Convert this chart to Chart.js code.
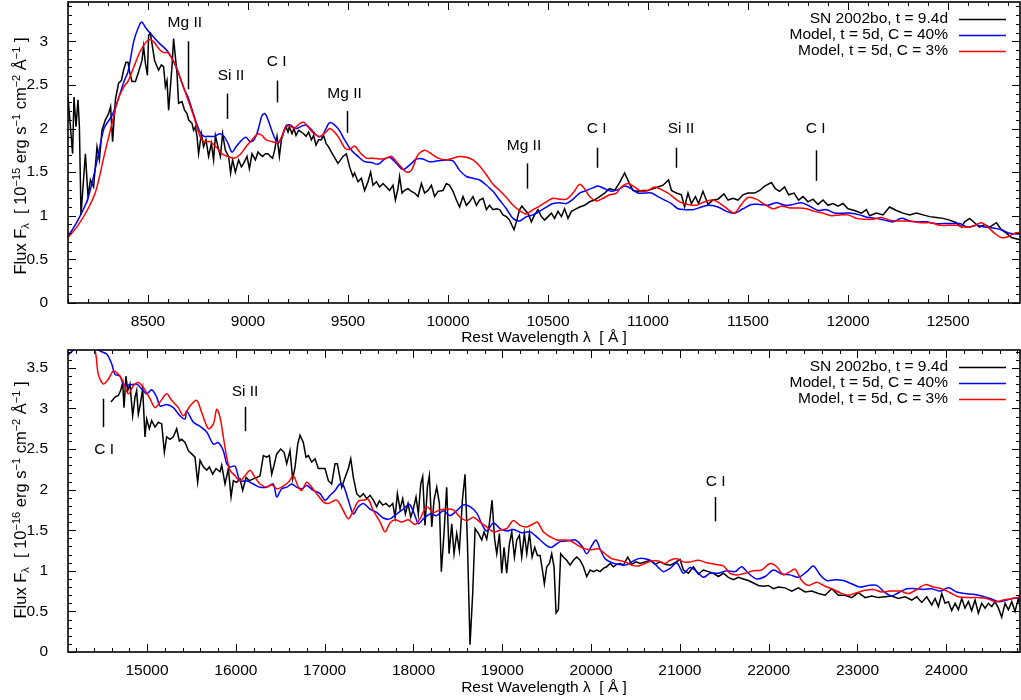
<!DOCTYPE html>
<html>
<head>
<meta charset="utf-8">
<script src="https://cdn.jsdelivr.net/npm/chart.js@4.4.1/dist/chart.umd.min.js"></script>
<style>
  html, body { margin: 0; padding: 0; background: #fff; }
  body { width: 1021px; height: 700px; overflow: hidden; position: relative; font-family: "Liberation Sans", Arial, Helvetica, sans-serif; }
  .panel { position: absolute; left: 0; width: 1021px; }
  .ytitle { position: absolute; font-size: 16.5px; white-space: nowrap; color: #000; transform: translate(-50%, -50%) rotate(-90deg); line-height: 18px; }
  .ytitle sup, .ytitle sub { font-size: 11px; position: relative; vertical-align: baseline; }
  .ytitle sup { top: -6px; }
  .ytitle sub { top: 3px; }
</style>
</head>
<body>
<div class="panel" style="top:0;height:350px;"><canvas id="topChart"></canvas></div>
<div class="panel" style="top:340px;height:360px;"><canvas id="botChart"></canvas></div>
<div class="ytitle" style="left:21px;top:156px;">Flux F<sub>λ</sub>&nbsp; [ 10<sup>−15</sup> erg s<sup>−1</sup> cm<sup>−2</sup> Å<sup>−1</sup> ]</div>
<div class="ytitle" style="left:21px;top:500px;">Flux F<sub>λ</sub>&nbsp; [ 10<sup>−16</sup> erg s<sup>−1</sup> cm<sup>−2</sup> Å<sup>−1</sup> ]</div>
<script>
// ---------------- DATA ----------------
const SERIES_LABELS = ['SN 2002bo, t = 9.4d', 'Model, t = 5d, C = 40%', 'Model, t = 5d, C = 3%'];
const X_TITLE = 'Rest Wavelength λ  [ Å ]';

// Top panel: [wavelength (Å), flux (1e-15)]
const topObs = [[8100,2.36],[8123,1.71],[8130,2.36],[8140,2.02],[8150,2.33],[8157,2.02],[8165,1.01],[8187,1.71],[8200,1.22],[8212,1.41],[8228,1.33],[8245,1.79],[8257,1.64],[8270,1.98],[8287,2.10],[8303,2.17],[8313,2.25],[8323,1.85],[8337,2.33],[8353,2.52],[8367,2.55],[8378,2.67],[8390,2.76],[8400,2.76],[8408,2.65],[8420,2.54],[8437,2.54],[8453,2.65],[8470,2.78],[8478,2.94],[8487,2.75],[8497,2.61],[8503,3.07],[8512,3.09],[8520,2.97],[8533,2.78],[8545,2.71],[8553,2.67],[8567,2.73],[8578,2.71],[8587,2.48],[8595,2.55],[8603,2.21],[8620,2.71],[8628,3.03],[8637,2.82],[8645,2.63],[8653,2.29],[8670,2.31],[8683,2.21],[8695,2.17],[8703,2.10],[8720,2.06],[8728,1.98],[8737,2.02],[8745,1.91],[8753,1.71],[8767,1.94],[8778,1.79],[8790,1.87],[8803,1.68],[8817,1.83],[8828,1.64],[8837,1.92],[8850,1.79],[8862,1.68],[8873,1.94],[8887,1.75],[8903,1.68],[8913,1.49],[8923,1.64],[8937,1.50],[8953,1.64],[8967,1.56],[8978,1.60],[8995,1.68],[9007,1.54],[9020,1.71],[9037,1.64],[9050,1.73],[9062,1.70],[9073,1.68],[9087,1.71],[9100,1.71],[9112,1.68],[9123,1.66],[9133,1.75],[9145,1.91],[9157,1.68],[9167,1.87],[9178,1.96],[9190,2.02],[9200,1.96],[9207,2.02],[9220,1.94],[9230,2.00],[9240,1.92],[9253,1.98],[9267,1.96],[9278,1.94],[9290,1.91],[9303,1.96],[9317,1.87],[9328,1.92],[9340,1.81],[9353,1.87],[9367,1.87],[9378,1.92],[9390,1.83],[9403,1.79],
[9417,1.73],[9450,1.60],[9475,1.68],[9492,1.71],[9508,1.56],[9525,1.45],[9533,1.49],[9550,1.39],[9567,1.43],[9583,1.29],[9600,1.39],[9613,1.50],[9625,1.35],[9642,1.39],[9658,1.33],[9675,1.37],[9692,1.33],[9708,1.29],[9725,1.35],[9737,1.18],[9750,1.31],[9758,1.45],[9770,1.26],[9783,1.29],[9800,1.31],[9817,1.28],[9833,1.26],[9850,1.22],[9867,1.37],[9883,1.26],[9900,1.29],[9917,1.35],[9933,1.22],[9950,1.28],[9975,1.29],[9992,1.37],[10008,1.35],[10025,1.28],[10042,1.18],[10058,1.10],[10075,1.22],[10092,1.12],[10108,1.16],[10125,1.22],[10142,1.12],[10158,1.18],[10175,1.20],[10192,1.07],[10208,1.12],[10225,1.07],[10242,1.08],[10258,1.07],[10275,1.01],[10292,0.99],[10308,0.95],[10330,0.84],[10342,0.93],[10358,1.07],[10370,1.11],[10383,1.07],[10400,1.03],[10417,0.93],[10433,1.01],[10450,1.07],[10467,0.99],[10483,0.95],[10500,0.99],[10517,1.03],[10533,0.97],[10550,1.05],[10567,0.99],[10583,1.08],[10600,0.97],[10617,1.05],[10633,1.07],[10658,1.10],[10683,1.12],[10708,1.16],[10733,1.18],[10758,1.22],[10783,1.26],[10808,1.31],[10833,1.29],[10858,1.38],[10883,1.49],[10905,1.38],[10925,1.29],[10950,1.28],[10975,1.29],[11000,1.29],[11025,1.31],[11050,1.33],[11075,1.35],[11103,1.41],
[11117,1.29],[11142,1.26],[11167,1.24],[11183,1.10],[11200,1.26],[11217,1.14],[11237,1.22],[11253,1.14],[11275,1.28],[11300,1.13],[11325,1.18],[11350,1.19],[11380,1.25],[11400,1.18],[11425,1.20],[11450,1.18],[11475,1.24],[11500,1.26],[11533,1.26],[11558,1.29],[11583,1.34],[11617,1.38],[11637,1.31],[11658,1.28],[11683,1.33],[11703,1.24],[11730,1.26],[11753,1.18],[11775,1.22],[11800,1.16],[11825,1.19],[11850,1.13],[11875,1.18],[11900,1.12],[11925,1.14],[11950,1.11],[11975,1.14],[12000,1.08],[12033,1.06],[12067,1.03],[12092,1.07],[12108,1.00],[12142,1.03],[12175,1.01],[12208,1.10],[12242,1.06],[12275,1.03],[12308,1.01],[12342,1.03],[12375,1.01],[12408,0.99],[12442,0.98],[12475,0.97],[12508,0.95],[12542,0.92],[12567,0.87],[12583,0.93],[12608,0.97],[12633,0.92],[12658,0.87],[12683,0.90],[12708,0.87],[12742,0.92],[12767,0.84],[12792,0.80],[12817,0.75],[12850,0.73],[12867,0.72]];

const topModel40 = [[8100,0.76],[8150,0.95],[8200,1.20],[8250,1.68],[8280,2.00],[8320,2.15],[8350,2.33],[8380,2.54],[8400,2.65],[8430,3.01],[8460,3.20],[8470,3.22],[8490,3.15],[8520,3.07],[8560,2.97],[8600,2.88],[8640,2.71],[8680,2.46],[8700,2.36],[8730,2.15],[8760,1.96],[8780,1.91],[8800,1.91],[8830,1.91],[8860,1.94],[8880,1.91],[8900,1.83],[8920,1.73],[8940,1.79],[8970,1.87],[8990,1.90],[9010,1.85],[9030,1.87],[9050,1.98],[9070,2.15],[9085,2.17],[9100,2.10],[9130,1.91],[9150,1.83],[9170,1.91],[9190,2.03],[9210,2.04],[9240,2.00],[9270,2.03],[9290,2.04],[9320,1.98],[9350,1.91],[9370,1.91],[9390,2.00],[9410,2.07],[9450,2.00],[9483,1.87],[9517,1.75],[9550,1.68],[9583,1.62],[9617,1.61],[9650,1.59],[9683,1.65],[9708,1.67],[9742,1.60],[9775,1.53],[9808,1.58],[9842,1.65],[9875,1.65],[9908,1.62],[9950,1.63],[9992,1.64],[10025,1.63],[10058,1.52],[10092,1.45],[10125,1.43],[10158,1.41],[10192,1.35],[10225,1.28],[10258,1.18],[10292,1.08],[10325,0.97],[10358,0.94],[10392,0.99],[10425,1.01],[10458,1.05],[10492,1.10],[10525,1.14],[10558,1.15],[10592,1.14],[10625,1.19],[10658,1.26],[10692,1.29],[10725,1.32],[10750,1.34],[10783,1.31],[10817,1.28],[10850,1.30],[10883,1.34],[10917,1.31],[10950,1.26],[10983,1.26],[11017,1.26],[11050,1.22],[11083,1.18],[11117,1.14],[11150,1.08],[11183,1.07],[11225,1.07],[11267,1.10],[11308,1.12],[11350,1.10],[11392,1.05],[11433,1.03],[11475,1.08],[11517,1.13],[11558,1.13],[11600,1.12],[11642,1.15],[11683,1.12],[11725,1.13],[11767,1.15],[11808,1.11],[11850,1.06],[11892,1.07],[11933,1.03],[11975,1.03],[12017,1.03],[12058,1.01],[12100,0.98],[12142,0.97],[12183,0.95],[12225,0.93],[12267,0.97],[12308,0.94],[12350,0.93],[12392,0.93],[12433,0.91],[12475,0.91],[12517,0.91],[12558,0.91],[12600,0.87],[12642,0.89],[12683,0.87],[12725,0.86],[12767,0.84],[12808,0.80],[12867,0.79]];

const topModel3 = [[8100,0.75],[8150,0.89],[8200,1.08],[8240,1.29],[8280,1.68],[8320,2.06],[8350,2.33],[8380,2.48],[8400,2.54],[8430,2.71],[8460,2.88],[8490,2.99],[8510,3.02],[8530,2.99],[8560,2.90],[8580,2.87],[8600,2.87],[8620,2.80],[8640,2.71],[8670,2.52],[8700,2.33],[8730,2.13],[8760,1.91],[8780,1.85],[8810,1.85],[8840,1.79],[8870,1.71],[8900,1.68],[8930,1.66],[8960,1.70],[8990,1.79],[9020,1.87],[9050,1.94],[9070,1.92],[9090,1.87],[9120,1.85],[9150,1.84],[9170,1.91],[9190,2.02],[9210,2.03],[9230,2.00],[9260,2.06],[9280,2.07],[9300,2.02],[9330,1.94],[9360,1.91],[9390,1.96],[9410,2.00],[9450,1.91],[9483,1.78],[9508,1.76],[9533,1.80],[9558,1.73],[9592,1.66],[9625,1.66],[9658,1.65],[9692,1.66],[9717,1.68],[9750,1.60],[9792,1.50],[9817,1.52],[9850,1.70],[9883,1.75],[9917,1.71],[9950,1.66],[9992,1.64],[10025,1.66],[10058,1.68],[10092,1.67],[10125,1.64],[10158,1.57],[10192,1.47],[10225,1.36],[10258,1.29],[10292,1.21],[10325,1.12],[10358,1.06],[10392,1.02],[10425,1.07],[10458,1.11],[10492,1.16],[10525,1.20],[10558,1.19],[10592,1.19],[10625,1.26],[10658,1.36],[10683,1.31],[10708,1.22],[10742,1.17],[10775,1.20],[10808,1.24],[10842,1.26],[10867,1.33],[10900,1.37],[10933,1.33],[10967,1.28],[11000,1.29],[11033,1.33],[11067,1.30],[11100,1.26],[11117,1.23],[11158,1.16],[11200,1.13],[11242,1.12],[11283,1.16],[11325,1.18],[11367,1.13],[11408,1.06],[11433,1.03],[11467,1.13],[11500,1.21],[11542,1.19],[11583,1.13],[11625,1.08],[11667,1.11],[11708,1.09],[11750,1.09],[11792,1.08],[11833,1.05],[11875,1.03],[11917,1.00],[11958,1.01],[12000,1.01],[12042,0.97],[12083,0.96],[12125,0.96],[12167,0.98],[12208,0.95],[12250,0.94],[12292,0.94],[12333,0.93],[12375,0.92],[12417,0.92],[12458,0.89],[12500,0.89],[12542,0.89],[12583,0.87],[12625,0.88],[12667,0.92],[12700,0.87],[12733,0.80],[12767,0.75],[12800,0.76],[12833,0.80],[12867,0.81]];

// Bottom panel: [wavelength (Å), flux (1e-16)]
const botObs = [[14594,3.08],[14639,3.14],[14677,3.16],[14703,3.22],[14726,3.32],[14741,3.01],[14763,3.40],[14782,3.22],[14808,3.30],[14838,2.91],[14865,3.14],[14883,3.22],[14902,2.93],[14921,3.03],[14951,3.24],[14977,2.65],[14996,2.87],[15026,2.75],[15052,2.85],[15090,2.77],[15127,2.83],[15165,2.81],[15195,2.46],[15221,2.65],[15259,2.62],[15296,2.65],[15334,2.75],[15364,2.60],[15390,2.62],[15428,2.58],[15465,2.48],[15503,2.44],[15540,2.40],[15570,2.09],[15597,2.36],[15634,2.28],[15672,2.24],[15702,2.28],[15739,2.19],[15777,2.26],[15822,2.22],[15841,2.30],[15878,2.07],[15916,2.26],[15946,1.91],[15972,2.11],[16010,2.09],[16047,2.13],[16077,1.99],[16115,2.15],[16152,2.11],[16190,2.13],[16235,2.15],[16272,2.17],[16310,2.42],[16347,2.40],[16377,2.42],[16404,2.19],[16430,2.30],[16460,2.44],[16505,2.50],[16543,2.46],[16573,2.32],[16610,2.48],[16640,2.13],[16667,2.28],[16697,2.56],[16723,2.67],[16760,2.58],[16790,2.40],[16817,2.42],[16854,2.34],[16892,2.38],[16929,2.26],[16967,2.26],[17004,2.26],[17042,2.11],[17079,2.07],[17117,2.32],[17143,2.32],
[17192,2.03],[17230,2.15],[17267,2.26],[17294,2.38],[17323,2.15],[17361,1.95],[17398,1.91],[17436,1.95],[17474,1.89],[17511,1.93],[17549,1.87],[17586,1.79],[17616,1.86],[17654,1.81],[17691,1.83],[17729,1.79],[17767,1.83],[17793,1.66],[17819,1.95],[17849,1.76],[17879,1.89],[17909,1.70],[17939,1.83],[17969,1.66],[17998,1.76],[18029,1.91],[18055,1.70],[18082,2.07],[18104,2.16],[18130,1.56],[18157,2.03],[18179,2.17],[18206,1.54],[18232,1.87],[18262,2.03],[18292,1.83],[18314,0.99],[18344,1.46],[18374,2.03],[18401,1.21],[18431,1.58],[18457,1.21],[18487,1.46],[18517,1.25],[18551,1.87],[18581,2.19],[18607,1.38],[18637,0.09],[18667,0.72],[18694,1.52],[18731,1.46],[18769,1.38],[18795,1.48],[18825,1.39],[18855,1.58],[18885,1.87],[18915,1.38],[18938,1.21],[18968,1.46],[18994,0.97],[19020,1.29],[19050,0.97],[19080,1.33],[19107,1.48],[19137,1.17],[19163,1.38],[19193,1.44],[19219,1.17],[19249,1.46],[19276,1.21],[19306,1.46],[19336,1.17],[19366,1.29],[19396,1.19],[19426,1.19],[19452,1.01],[19474,0.84],[19501,1.05],[19531,1.09],[19557,1.21],[19583,1.05],[19606,0.48],[19632,0.52],[19658,1.21],[19688,1.17],[19726,1.13],[19763,1.07],[19801,1.13],[19839,1.17],[19876,1.13],[19914,1.05],[19951,0.93],[19989,1.01],[20026,0.99],[20064,1.01],[20101,0.99],[20139,1.03],[20176,1.05],[20214,1.09],[20252,1.05],[20289,1.08],[20327,1.09],[20364,1.07],[20413,1.17],[20458,1.08],[20507,1.11],[20552,1.09],[20608,1.11],[20664,1.13],[20721,1.08],[20777,1.11],[20833,1.08],
[20890,1.07],[20946,1.10],[21002,1.14],[21040,1.01],[21096,0.97],[21152,1.05],[21208,0.96],[21265,1.01],[21321,0.99],[21377,0.97],[21434,0.93],[21490,0.97],[21546,0.92],[21603,0.89],[21659,0.92],[21715,0.90],[21771,0.88],[21828,0.85],[21884,0.82],[21940,0.81],[21996,0.82],[22053,0.78],[22109,0.80],[22184,0.79],[22260,0.75],[22335,0.79],[22410,0.74],[22485,0.75],[22560,0.72],[22635,0.70],[22710,0.78],[22785,0.70],[22860,0.70],[22935,0.67],[23011,0.73],[23086,0.67],[23161,0.69],[23236,0.67],[23311,0.68],[23386,0.69],[23461,0.66],[23536,0.68],[23611,0.64],[23667,0.68],[23724,0.61],[23780,0.68],[23836,0.58],[23874,0.66],[23911,0.56],[23949,0.72],[23986,0.60],[24024,0.62],[24061,0.51],[24099,0.60],[24136,0.52],[24174,0.66],[24211,0.54],[24249,0.62],[24286,0.51],[24324,0.64],[24361,0.48],[24399,0.60],[24437,0.54],[24474,0.60],[24512,0.56],[24549,0.62],[24587,0.54],[24624,0.43],[24662,0.60],[24699,0.52],[24737,0.62],[24774,0.50],[24812,0.66],[24830,0.56]];

const botModel40 = [[14110,3.66],[14151,3.70],[14245,3.80],[14358,3.82],[14470,3.71],[14545,3.67],[14602,3.55],[14639,3.42],[14696,3.40],[14733,3.30],[14808,3.29],[14883,3.30],[14940,3.24],[14996,3.18],[15052,3.23],[15109,3.14],[15146,3.03],[15221,3.05],[15296,3.01],[15371,2.91],[15428,2.87],[15446,2.97],[15522,2.83],[15597,2.78],[15672,2.71],[15747,2.56],[15803,2.58],[15859,2.48],[15897,2.32],[15934,2.28],[15991,2.29],[16047,2.11],[16122,2.11],[16197,2.07],[16272,2.03],[16347,2.03],[16422,2.07],[16460,1.91],[16516,2.01],[16573,2.03],[16629,2.07],[16685,2.03],[16742,2.01],[16798,2.05],[16873,1.99],[16948,1.95],[17004,1.87],[17061,1.93],[17117,1.99],[17173,2.07],[17211,2.05],[17267,1.87],[17323,1.70],[17380,1.79],[17436,1.83],[17511,1.76],[17586,1.72],[17661,1.65],[17736,1.64],[17811,1.70],[17886,1.76],[17954,1.82],[18017,1.68],[18055,1.58],[18112,1.64],[18187,1.70],[18262,1.68],[18337,1.74],[18412,1.68],[18487,1.74],[18562,1.81],[18637,1.79],[18713,1.71],[18769,1.58],[18825,1.49],[18900,1.59],[18975,1.52],[19050,1.49],[19125,1.51],[19219,1.47],[19313,1.48],[19407,1.40],[19501,1.31],[19557,1.29],[19651,1.36],[19745,1.37],[19820,1.38],[19895,1.31],[19951,1.21],[20008,1.31],[20056,1.38],[20101,1.27],[20158,1.15],[20233,1.10],[20308,1.08],[20383,1.07],[20458,1.11],[20533,1.15],[20608,1.15],[20683,1.12],[20758,1.04],[20814,0.99],[20890,1.03],[20965,1.10],[21040,0.97],[21115,1.04],[21190,0.99],[21265,0.92],[21340,0.97],[21434,0.97],[21528,1.00],[21621,0.99],[21696,1.05],[21771,0.97],[21865,0.90],[21959,0.93],[22053,1.01],[22147,0.96],[22241,0.95],[22335,0.92],[22429,0.99],[22504,1.06],[22579,0.95],[22654,0.88],[22748,0.89],[22842,0.88],[22935,0.84],[23029,0.80],[23123,0.82],[23217,0.82],[23311,0.73],[23386,0.69],[23461,0.73],[23555,0.78],[23649,0.78],[23742,0.77],[23836,0.78],[23930,0.75],[24024,0.79],[24118,0.74],[24211,0.72],[24305,0.71],[24399,0.69],[24493,0.66],[24587,0.62],[24681,0.64],[24756,0.66],[24830,0.66]];

const botModel3 = [[14110,4.30],[14300,3.95],[14414,3.71],[14451,3.42],[14508,3.30],[14564,3.36],[14620,3.46],[14677,3.42],[14733,3.32],[14790,3.18],[14846,3.28],[14902,3.32],[14958,3.26],[15033,3.12],[15090,3.01],[15146,3.08],[15221,3.18],[15277,3.10],[15353,3.01],[15409,2.91],[15484,3.03],[15559,3.10],[15616,2.95],[15691,2.75],[15747,2.81],[15785,2.99],[15822,2.89],[15859,2.65],[15897,2.40],[15934,2.24],[15991,2.17],[16047,2.11],[16103,2.17],[16160,2.24],[16216,2.15],[16272,2.07],[16347,2.03],[16404,2.06],[16460,2.01],[16516,2.03],[16591,2.09],[16648,2.17],[16704,2.03],[16742,1.99],[16798,2.09],[16854,2.03],[16910,1.95],[16985,1.85],[17042,1.83],[17136,1.87],[17211,1.74],[17267,1.64],[17323,1.74],[17380,1.86],[17436,1.87],[17492,1.88],[17549,1.74],[17624,1.60],[17680,1.48],[17736,1.59],[17793,1.63],[17868,1.60],[17943,1.63],[18017,1.57],[18074,1.64],[18149,1.79],[18224,1.72],[18299,1.75],[18374,1.76],[18449,1.75],[18525,1.66],[18600,1.62],[18675,1.66],[18750,1.60],[18825,1.54],[18900,1.48],[18975,1.50],[19050,1.52],[19125,1.62],[19200,1.56],[19276,1.54],[19351,1.58],[19396,1.60],[19463,1.48],[19538,1.42],[19613,1.38],[19688,1.38],[19763,1.37],[19857,1.31],[19932,1.27],[20008,1.26],[20083,1.27],[20158,1.21],[20233,1.15],[20308,1.13],[20383,1.11],[20458,1.07],[20533,1.06],[20608,1.09],[20683,1.12],[20758,1.12],[20833,1.09],[20890,1.13],[20965,1.15],[21040,1.11],[21115,1.11],[21208,1.13],[21302,1.10],[21396,1.08],[21490,1.06],[21565,0.97],[21640,0.95],[21734,0.97],[21828,1.00],[21921,1.01],[22015,1.09],[22091,1.05],[22166,0.95],[22241,0.99],[22297,1.02],[22372,0.88],[22447,0.82],[22541,0.86],[22635,0.81],[22710,0.78],[22804,0.73],[22898,0.70],[22992,0.73],[23086,0.76],[23179,0.77],[23273,0.74],[23367,0.75],[23480,0.75],[23574,0.72],[23667,0.77],[23761,0.83],[23855,0.80],[23949,0.78],[24043,0.73],[24136,0.68],[24249,0.67],[24361,0.67],[24456,0.66],[24549,0.62],[24643,0.64],[24737,0.66],[24830,0.67]];

// Line identifications: wavelength of marker, marker flux range, label position (data units)
const topLineIds = [
  { label: 'Mg II', wl: 8698,  y0: 2.45, y1: 3.00, tx: 8684,  ty: 3.21 },
  { label: 'Si II', wl: 8896,  y0: 2.11, y1: 2.40, tx: 8915,  ty: 2.60 },
  { label: 'C I',   wl: 9143,  y0: 2.30, y1: 2.55, tx: 9143,  ty: 2.76 },
  { label: 'Mg II', wl: 9495,  y0: 1.95, y1: 2.20, tx: 9483,  ty: 2.40 },
  { label: 'Mg II', wl: 10393, y0: 1.31, y1: 1.60, tx: 10380, ty: 1.80 },
  { label: 'C I',   wl: 10743, y0: 1.55, y1: 1.78, tx: 10743, ty: 2.00 },
  { label: 'Si II', wl: 11140, y0: 1.55, y1: 1.78, tx: 11165, ty: 2.00 },
  { label: 'C I',   wl: 11838, y0: 1.40, y1: 1.75, tx: 11838, ty: 2.00 }
];
const botLineIds = [
  { label: 'C I',   wl: 14508, y0: 2.77, y1: 3.12, tx: 14516, ty: 2.49 },
  { label: 'Si II', wl: 16104, y0: 2.72, y1: 3.02, tx: 16104, ty: 3.20 },
  { label: 'C I',   wl: 21396, y0: 1.61, y1: 1.91, tx: 21404, ty: 2.10 }
];

// Axis ranges and tick steps
const topX = { min: 8100, max: 12860, minor: 100, major: 500 };
const topY = { min: 0, max: 3.45, minor: 0.1, major: 0.5 };
const botX = { min: 14110, max: 24830, minor: 200, major: 1000 };
const botY = { min: 0, max: 3.72, minor: 0.1, major: 0.5 };

// ---------------- STYLE / RENDER ----------------
const FONT_FAMILY = '"Liberation Sans", Arial, Helvetica, sans-serif';
const FONT_SIZE = 15.5;
const COLORS = ['#000000', '#0000ff', '#ff0000'];
Chart.defaults.font.family = FONT_FAMILY;
Chart.defaults.font.size = FONT_SIZE;
Chart.defaults.color = '#000';

function isMultiple(v, step) {
  const r = v / step;
  return Math.abs(r - Math.round(r)) < 1e-6;
}
function fmt(v) { return String(Math.round(v * 10) / 10); }

function framePlugin(xr, yr) {
  return {
    id: 'frameTicks',
    afterDraw(chart) {
      const { ctx, chartArea: a } = chart;
      const xs = chart.scales.x, ys = chart.scales.y;
      ctx.save();
      ctx.strokeStyle = '#000';
      ctx.lineWidth = 1;
      ctx.beginPath();
      xs.ticks.forEach(t => {
        const p = Math.round(xs.getPixelForValue(t.value)) + 0.5;
        const len = isMultiple(t.value, xr.major) ? 8 : 4;
        ctx.moveTo(p, a.bottom); ctx.lineTo(p, a.bottom - len);
        ctx.moveTo(p, a.top); ctx.lineTo(p, a.top + len);
      });
      ys.ticks.forEach(t => {
        const p = Math.round(ys.getPixelForValue(t.value)) + 0.5;
        const len = isMultiple(t.value, yr.major) ? 8 : 4;
        ctx.moveTo(a.left, p); ctx.lineTo(a.left + len, p);
        ctx.moveTo(a.right, p); ctx.lineTo(a.right - len, p);
      });
      ctx.stroke();
      ctx.lineWidth = 1.6;
      ctx.strokeRect(a.left, a.top, a.right - a.left, a.bottom - a.top);
      ctx.restore();
    }
  };
}

function lineIdPlugin(items) {
  return {
    id: 'lineIds',
    afterDatasetsDraw(chart) {
      const { ctx } = chart;
      const xs = chart.scales.x, ys = chart.scales.y;
      ctx.save();
      ctx.strokeStyle = '#000';
      ctx.fillStyle = '#000';
      ctx.lineWidth = 1.5;
      ctx.font = FONT_SIZE + 'px ' + FONT_FAMILY;
      ctx.textAlign = 'center';
      ctx.textBaseline = 'middle';
      items.forEach(it => {
        const px = Math.round(xs.getPixelForValue(it.wl)) + 0.5;
        ctx.beginPath();
        ctx.moveTo(px, ys.getPixelForValue(it.y0));
        ctx.lineTo(px, ys.getPixelForValue(it.y1));
        ctx.stroke();
        ctx.fillText(it.label, xs.getPixelForValue(it.tx), ys.getPixelForValue(it.ty));
      });
      ctx.restore();
    }
  };
}

const legendPlugin = {
  id: 'keyBox',
  afterDraw(chart) {
    const { ctx, chartArea: a } = chart;
    ctx.save();
    ctx.font = FONT_SIZE + 'px ' + FONT_FAMILY;
    ctx.textAlign = 'right';
    ctx.textBaseline = 'middle';
    chart.data.datasets.forEach((ds, i) => {
      const y = a.top + 16.5 + i * 16.2;
      ctx.fillStyle = '#000';
      ctx.fillText(ds.label, a.right - 72, y);
      ctx.strokeStyle = ds.borderColor;
      ctx.lineWidth = 1.5;
      ctx.beginPath();
      ctx.moveTo(a.right - 61, Math.round(y) + 0.5);
      ctx.lineTo(a.right - 14, Math.round(y) + 0.5);
      ctx.stroke();
    });
    ctx.restore();
  }
};

function toPoints(pairs) { return pairs.map(p => ({ x: p[0], y: p[1] })); }

function makeChart(canvasId, series, xr, yr, lineIds, padTop, xAxisHeight) {
  const datasets = series.map((s, i) => ({
    label: SERIES_LABELS[i],
    data: toPoints(s),
    borderColor: COLORS[i],
    borderWidth: 1.5,
    pointRadius: 0,
    tension: i === 0 ? 0 : 0.3,
    fill: false,
    order: 3 - i
  }));
  return new Chart(document.getElementById(canvasId), {
    type: 'line',
    data: { datasets },
    options: {
      responsive: true,
      maintainAspectRatio: false,
      devicePixelRatio: 1,
      animation: false,
      events: [],
      layout: { padding: { top: padTop, right: 1, left: 0, bottom: 0 } },
      plugins: { legend: { display: false }, tooltip: { enabled: false } },
      scales: {
        x: {
          type: 'linear', min: xr.min, max: xr.max,
          afterFit(s) { s.height = xAxisHeight; s.paddingLeft = 0; s.paddingRight = 0; },
          grid: { display: false },
          border: { display: false },
          ticks: {
            stepSize: xr.minor, includeBounds: false, autoSkip: false,
            maxRotation: 0, minRotation: 0, padding: 1,
            callback: v => isMultiple(v, xr.major) ? String(v) : ''
          },
          title: { display: true, text: X_TITLE, padding: { top: 0, bottom: 3 } }
        },
        y: {
          type: 'linear', min: yr.min, max: yr.max,
          afterFit(s) { s.width = 68; s.paddingTop = 0; s.paddingBottom = 0; },
          grid: { display: false },
          border: { display: false },
          ticks: {
            stepSize: yr.minor, includeBounds: false, autoSkip: false, padding: 12,
            callback: v => isMultiple(v, yr.major) ? fmt(v) : ''
          }
        }
      }
    },
    plugins: [lineIdPlugin(lineIds), framePlugin(xr, yr), legendPlugin]
  });
}

makeChart('topChart', [topObs, topModel40, topModel3], topX, topY, topLineIds, 2, 47);
makeChart('botChart', [botObs, botModel40, botModel3], botX, botY, botLineIds, 10, 48);
</script>
</body>
</html>
